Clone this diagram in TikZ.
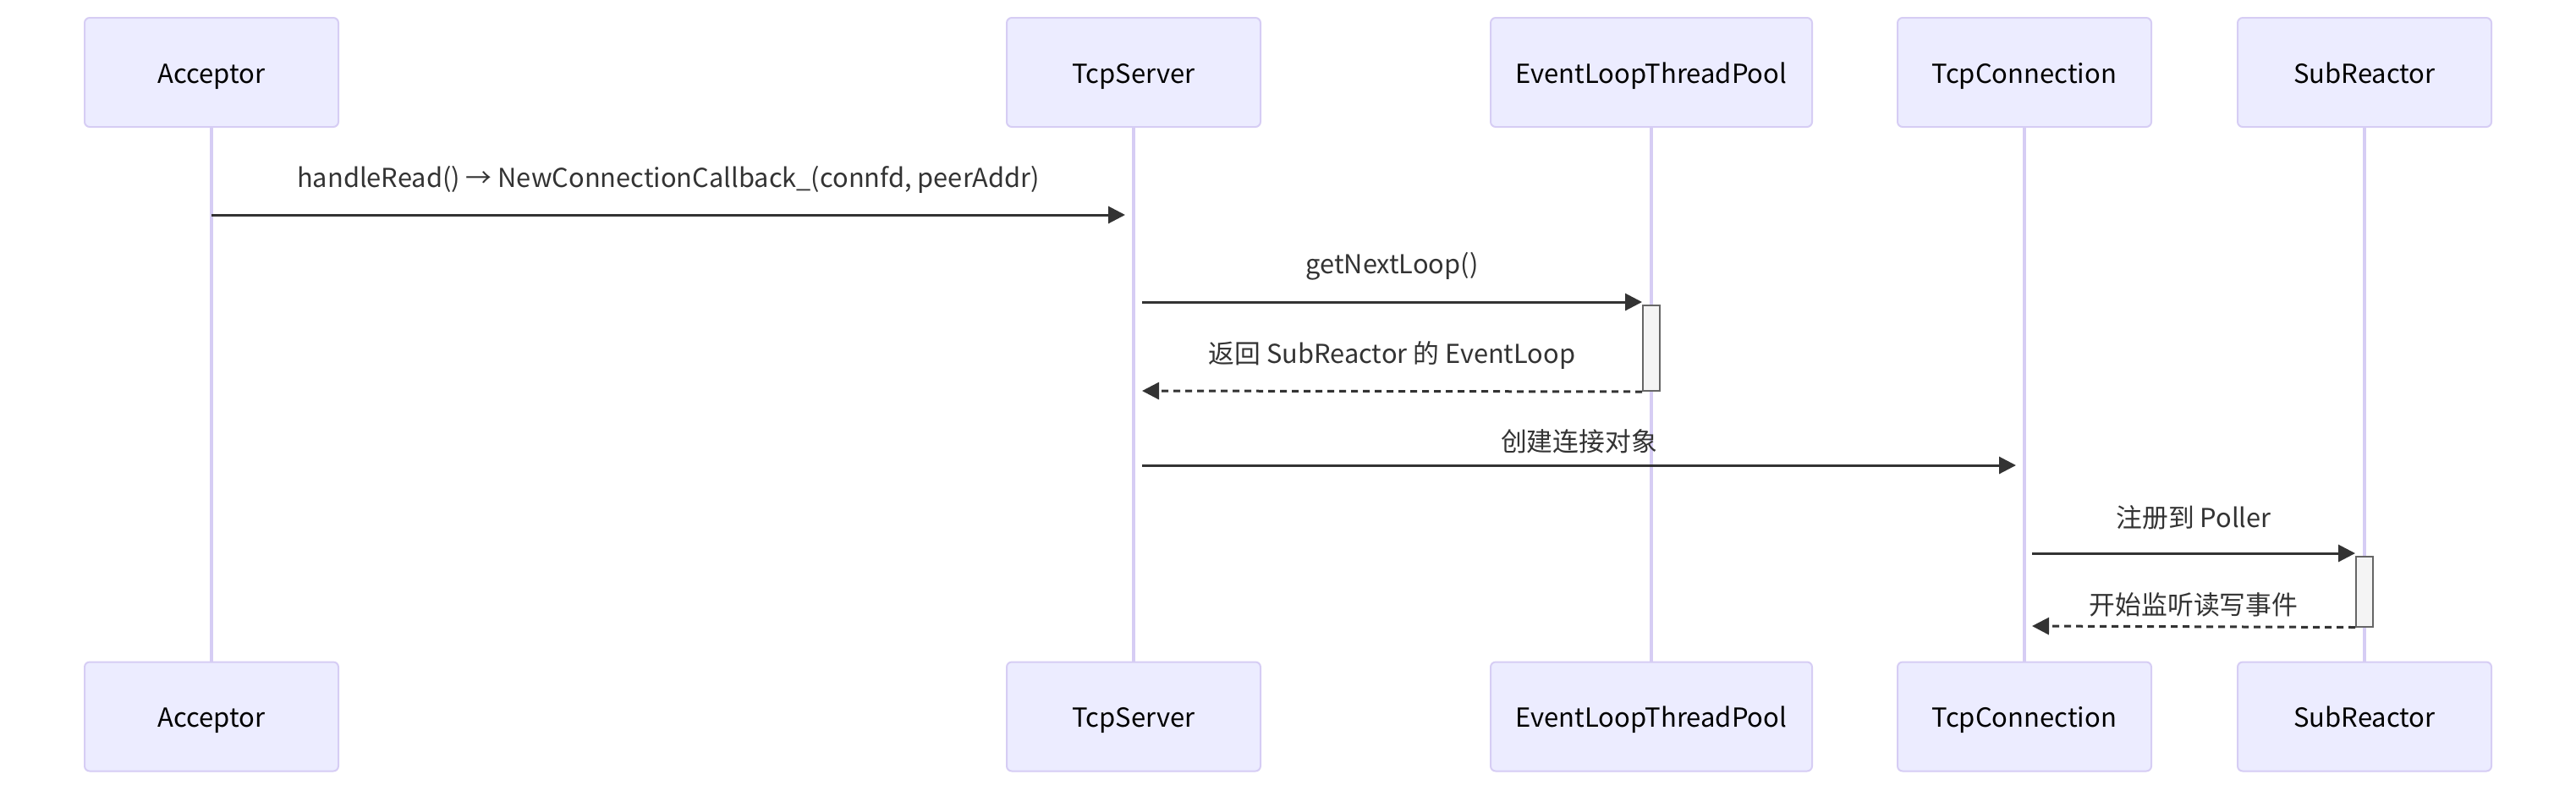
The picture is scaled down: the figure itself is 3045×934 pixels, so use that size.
\documentclass[tikz,border=0pt]{standalone}
\usepackage{fontspec}
\setmainfont{Noto Sans CJK SC}
\usetikzlibrary{arrows.meta, positioning}

\definecolor{actorfill}{HTML}{ECECFF}
\definecolor{actorline}{HTML}{D6CDF4}
\definecolor{msgline}{HTML}{333333}
\definecolor{actfill}{HTML}{F4F4F4}
\definecolor{actline}{HTML}{666666}

\begin{document}
\begin{tikzpicture}[x=0.5pt, y=-0.5pt,
    actor/.style={draw=actorline, line width=1pt, fill=actorfill,
        rounded corners=3pt, minimum height=64.5pt, inner sep=0pt,
        text height=16pt, text depth=3.5pt,
        font=\fontsize{15.5}{18}\selectfont, text=black},
    lifeline/.style={draw=actorline, line width=1.8pt},
    msg/.style={draw=msgline, line width=1.5pt,
        -{Triangle[length=10pt, width=10pt]}},
    reply/.style={msg, dash pattern=on 4pt off 3pt},
    msglabel/.style={font=\fontsize{15.4}{18}\selectfont, text=msgline,
        midway, yshift=21pt},
    activation/.style={draw=actline, line width=1pt, fill=actfill,
        minimum width=10pt, inner sep=0pt}
]

    % CANVAS
    \useasboundingbox (0,0) rectangle (3045,934);

    % ACTORS AND LIFELINES
    \foreach \name/\x/\w/\txt in {
        acc/250/150/Acceptor,
        srv/1340/150/TcpServer,
        pool/1952/190/EventLoopThreadPool,
        conn/2393/150/TcpConnection,
        sub/2795/150/SubReactor
    }{
        \node[actor, minimum width=\w pt] (\name T) at (\x,85.5) {\txt};
        \node[actor, minimum width=\w pt] (\name B) at (\x,847) {\txt};
        \draw[lifeline] (\name T.south) -- (\name B.north);
    }

    % ACTIVATIONS
    \node[activation, minimum height=50.5pt] (act1) at (1952,411.5) {};
    \node[activation, minimum height=41.5pt] (act2) at (2795,699) {};

    % MESSAGE END POINTS
    \coordinate (m1a) at (accT.south |- 0,254);
    \coordinate (m1b) at (1330,254);
    \coordinate (m2a) at (1350,357);
    \coordinate (m2b) at (act1.west |- 0,357);
    \coordinate (m3b) at (1350,462);
    \coordinate (m4a) at (1350,550);
    \coordinate (m4b) at (2383,550);
    \coordinate (m5a) at (2402,654);
    \coordinate (m5b) at (act2.west |- 0,654);
    \coordinate (m6b) at (2402,740);

    % MESSAGES
    \draw[msg] (m1a) -- (m1b)
        node[msglabel] {handleRead() → NewConnectionCallback\_(connfd, peerAddr)};
    \draw[msg] (m2a) -- (m2b) node[msglabel] {getNextLoop()};
    \draw[reply] (act1.south west) -- (m3b)
        node[msglabel] {返回 SubReactor 的 EventLoop};
    \draw[msg] (m4a) -- (m4b) node[msglabel, yshift=-7pt] {创建连接对象};
    \draw[msg] (m5a) -- (m5b) node[msglabel] {注册到 Poller};
    \draw[reply] (act2.south west) -- (m6b) node[msglabel, yshift=-8pt] {开始监听读写事件};

\end{tikzpicture}
\end{document}
